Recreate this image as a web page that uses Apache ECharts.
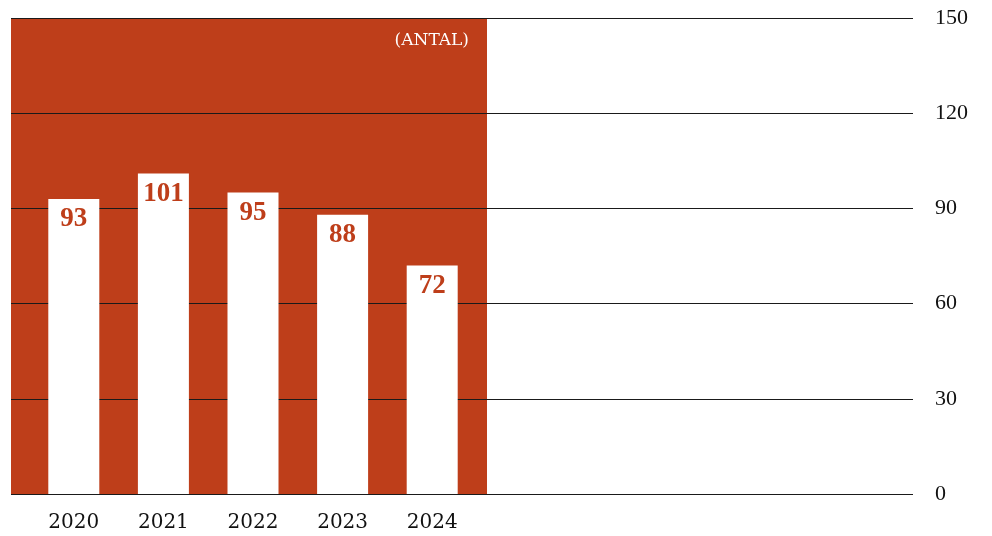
<!DOCTYPE html>
<html>
<head>
<meta charset="utf-8">
<script src="https://cdn.jsdelivr.net/npm/echarts@6/dist/echarts.min.js"></script>
<style>
  html, body { margin: 0; padding: 0; background: #fff; }
  #main { width: 992px; height: 536px; }
</style>
</head>
<body>
<div id="main"></div>
<script>
var years = ['2020', '2021', '2022', '2023', '2024'];
var antal = [93, 101, 95, 88, 72];
var yTicks = [0, 30, 60, 90, 120, 150];

var red = '#BE3E1A';
var serif = '"Liberation Serif", "DejaVu Serif", serif';
var wideSerif = '"DejaVu Serif", "Liberation Serif", serif';

var chartDom = document.getElementById('main');
var myChart = echarts.init(chartDom);
var option;

option = {
    animation: false,
    title: {
        text: '(ANTAL)',
        right: 518,
        top: 27,
        textStyle: { color: '#fff', fontFamily: wideSerif, fontSize: 17, fontWeight: 'normal' }
    },
    grid: [
        // gridlines across the whole width
        { left: 11, right: 79, top: 18, bottom: 42 },
        // bars
        { left: 29, right: 515, top: 18, bottom: 42 },
        // red panel behind bars
        { left: 11, right: 505, top: 18, bottom: 42, show: true, backgroundColor: red, borderWidth: 0 }
    ],
    xAxis: [
        { type: 'category', gridIndex: 0, data: years, show: false },
        {
            type: 'category',
            gridIndex: 1,
            data: years,
            axisLine: { show: false },
            axisTick: { show: false },
            axisLabel: { margin: 19, color: '#111', fontFamily: wideSerif, fontSize: 20 }
        },
        { type: 'category', gridIndex: 2, data: years, show: false }
    ],
    yAxis: [
        {
            type: 'value',
            gridIndex: 0,
            position: 'right',
            min: 0,
            max: 150,
            interval: 30,
            z: 1,
            axisLine: { show: false },
            axisTick: { show: false },
            axisLabel: {
                margin: 22,
                color: '#111',
                fontFamily: serif,
                fontSize: 22,
                formatter: function (v) { return yTicks.indexOf(v) >= 0 ? String(v) : ''; }
            },
            splitLine: { lineStyle: { color: '#1a1a1a', width: 1 } }
        },
        { type: 'value', gridIndex: 1, min: 0, max: 150, show: false },
        { type: 'value', gridIndex: 2, min: 0, max: 150, show: false }
    ],
    series: [
        {
            type: 'bar',
            xAxisIndex: 1,
            yAxisIndex: 1,
            data: antal,
            barWidth: 51,
            z: 3,
            itemStyle: { color: '#fff' },
            label: {
                show: true,
                position: 'insideTop',
                distance: 7,
                color: red,
                fontFamily: serif,
                fontWeight: 'bold',
                fontSize: 27
            }
        }
    ]
};

myChart.setOption(option);
</script>
</body>
</html>
